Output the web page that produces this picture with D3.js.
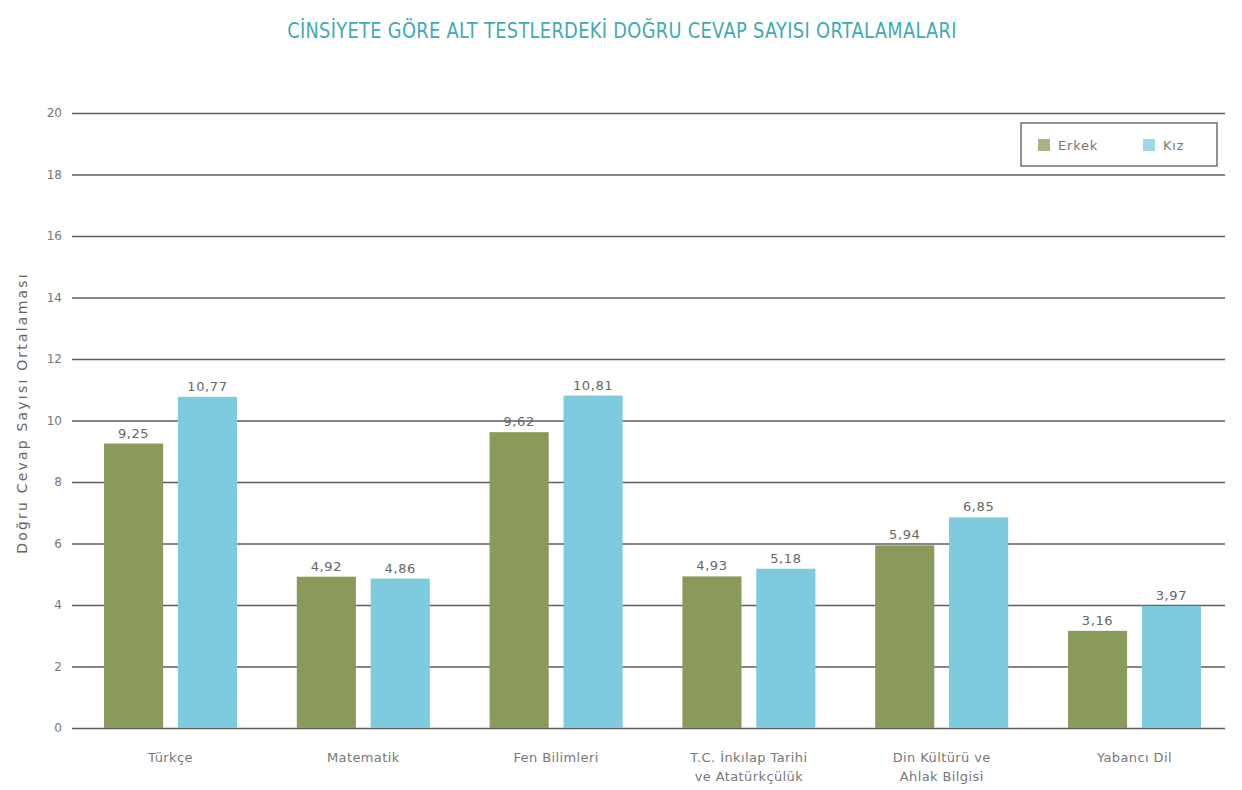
<!DOCTYPE html>
<html>
<head>
<meta charset="utf-8">
<script src="https://cdn.jsdelivr.net/npm/d3@7"></script>
<style>
  body { margin: 0; background: #fff; }
  text { font-family: "DejaVu Sans", sans-serif; }
</style>
</head>
<body>
<div id="chart"></div>
<script>
let categories = ['Türkçe', 'Matematik', 'Fen Bilimleri', 'T.C. İnkılap Tarihi|ve Atatürkçülük', 'Din Kültürü ve|Ahlak Bilgisi', 'Yabancı Dil'];
let seriesNames = ['Erkek', 'Kız'];
let erkek = [9.25, 4.92, 9.62, 4.93, 5.94, 3.16];
let kiz = [10.77, 4.86, 10.81, 5.18, 6.85, 3.97];
let yTicks = [0, 2, 4, 6, 8, 10, 12, 14, 16, 18, 20];

let svgWidth = 1242, svgHeight = 790,
  plotLeft = 72, plotRight = 1225,
  plotTop = 113, plotBottom = 728,
  colors = ['#8a9a5b', '#7ecbdf'];

const svg = d3.select('#chart')
  .append('svg')
  .attr('width', svgWidth)
  .attr('height', svgHeight);

// title
svg.append('text')
  .attr('transform', 'translate(622,38) scale(0.81,1)')
  .attr('text-anchor', 'middle')
  .attr('fill', '#40aab3')
  .attr('font-size', 22)
  .attr('font-family', 'DejaVu Sans Condensed, sans-serif')
  .attr('letter-spacing', 0.4)
  .text('CİNSİYETE GÖRE ALT TESTLERDEKİ DOĞRU CEVAP SAYISI ORTALAMALARI');

const y = d3.scaleLinear().domain([0, 20]).range([plotBottom, plotTop]);

const x0 = d3.scaleBand()
  .domain(categories)
  .range([plotLeft, 1233])
  .paddingInner(0.31)
  .paddingOuter(0.166);

const x1 = d3.scaleBand()
  .domain(seriesNames)
  .range([0, x0.bandwidth()])
  .paddingInner(0.2);

// grid lines + y tick labels
const yAxis = d3.axisLeft(y)
  .tickValues(yTicks)
  .tickSize(-(plotRight - plotLeft))
  .tickPadding(10);

const yG = svg.append('g')
  .attr('transform', `translate(${plotLeft},0)`)
  .call(yAxis);
yG.select('.domain').remove();
yG.selectAll('.tick line').attr('stroke', '#5e5e5e').attr('stroke-width', 1.7);
yG.selectAll('.tick text').attr('fill', '#777').attr('font-size', 12).attr('font-family', 'DejaVu Sans Condensed, sans-serif');

// y title
svg.append('text')
  .attr('transform', 'translate(27,413) rotate(-90)')
  .attr('text-anchor', 'middle')
  .attr('fill', '#666')
  .attr('font-size', 14)
  .attr('letter-spacing', 2.2)
  .text('Doğru Cevap Sayısı Ortalaması');

// bars
const rows = categories.map((c, i) => ({ cat: c, vals: [erkek[i], kiz[i]] }));

const groups = svg.selectAll('.group')
  .data(rows)
  .enter()
  .append('g')
  .attr('class', 'group')
  .attr('transform', d => `translate(${x0(d.cat)},0)`);

groups.selectAll('rect')
  .data(d => d.vals.map((v, j) => ({ name: seriesNames[j], v: v, j: j })))
  .enter()
  .append('rect')
  .attr('x', d => x1(d.name))
  .attr('y', d => y(d.v))
  .attr('width', x1.bandwidth())
  .attr('height', d => plotBottom - y(d.v))
  .attr('fill', d => colors[d.j]);

groups.selectAll('.val')
  .data(d => d.vals.map((v, j) => ({ name: seriesNames[j], v: v })))
  .enter()
  .append('text')
  .attr('class', 'val')
  .attr('x', d => x1(d.name) + x1.bandwidth() / 2)
  .attr('y', d => y(d.v) - 6)
  .attr('text-anchor', 'middle')
  .attr('fill', '#666')
  .attr('font-size', 13)
  .attr('font-family', 'DejaVu Sans Condensed, sans-serif')
  .attr('letter-spacing', 0.6)
  .text(d => d.v.toFixed(2).replace('.', ','));

// x labels
const xLabels = svg.selectAll('.x-label')
  .data(categories)
  .enter()
  .append('text')
  .attr('class', 'x-label')
  .attr('x', d => x0(d) + x0.bandwidth() / 2)
  .attr('y', 762)
  .attr('text-anchor', 'middle')
  .attr('fill', '#777')
  .attr('font-size', 13)
  .attr('letter-spacing', 0.4);

xLabels.selectAll('tspan')
  .data(d => d.split('|'))
  .enter()
  .append('tspan')
  .attr('x', function () { return d3.select(this.parentNode).attr('x'); })
  .attr('dy', (d, i) => i === 0 ? 0 : 19)
  .text(d => d);

// legend
const legend = svg.append('g');
legend.append('rect')
  .attr('x', 1021).attr('y', 123)
  .attr('width', 196).attr('height', 43)
  .attr('fill', '#fff')
  .attr('stroke', '#666')
  .attr('stroke-width', 1.4);

const legendX = [1038, 1143];
seriesNames.forEach((n, i) => {
  legend.append('rect')
    .attr('x', legendX[i]).attr('y', 139)
    .attr('width', 12).attr('height', 12)
    .attr('fill', colors[i])
    .attr('opacity', 0.75);
  legend.append('text')
    .attr('x', legendX[i] + 20).attr('y', 150)
    .attr('fill', '#777')
    .attr('font-size', 13)
    .attr('letter-spacing', 0.8)
    .text(n);
});
</script>
</body>
</html>
